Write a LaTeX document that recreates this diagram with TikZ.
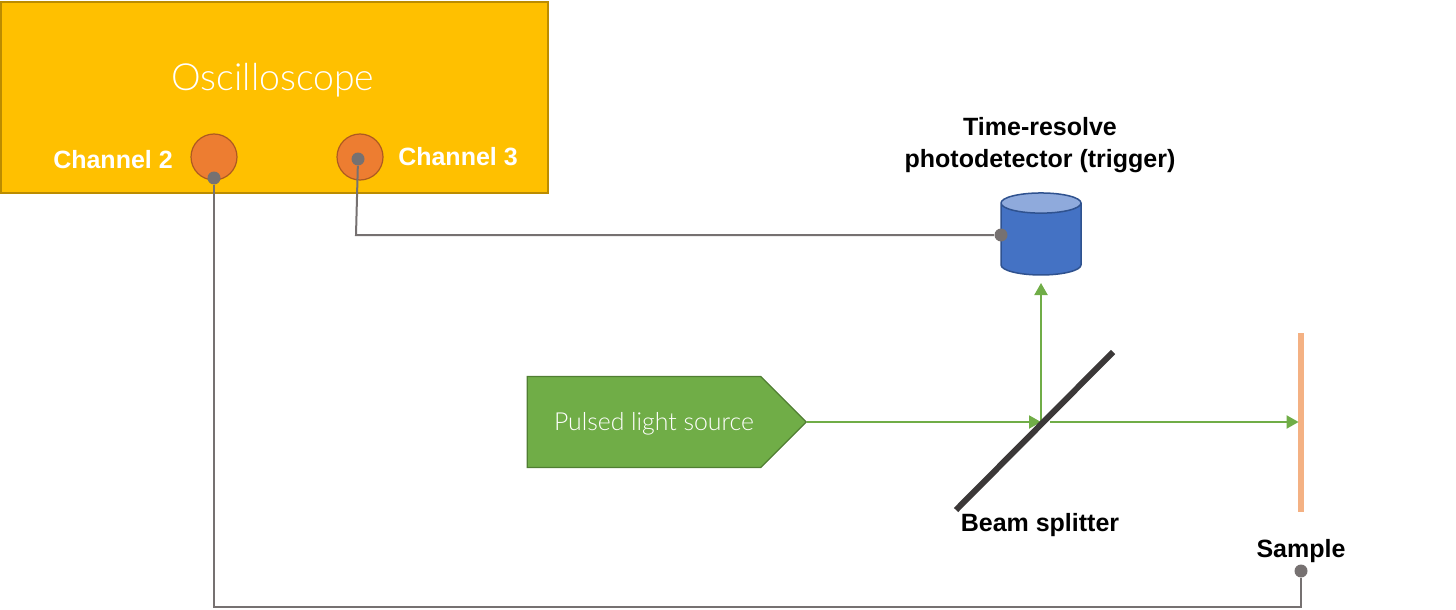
\documentclass[tikz,border=0pt]{standalone}
\usepackage{fontspec}
\setmainfont{Liberation Sans}
\newfontfamily\lightfont{Lato Light}
\usepackage{tikz}
\usetikzlibrary{arrows.meta,positioning,shapes.geometric,shapes.symbols}

\definecolor{scopegold}{HTML}{FFC000}
\definecolor{scopeedge}{HTML}{BC8C00}
\definecolor{portfill}{HTML}{ED7D31}
\definecolor{portedge}{HTML}{AE5A21}
\definecolor{wiregray}{HTML}{767171}
\definecolor{beamgreen}{HTML}{70AD47}
\definecolor{sourceedge}{HTML}{507E32}
\definecolor{detblue}{HTML}{4472C4}
\definecolor{dettop}{HTML}{8FAADC}
\definecolor{detedge}{HTML}{2F528F}
\definecolor{samplefill}{HTML}{F4B183}
\definecolor{splitterdark}{HTML}{3B3838}

\begin{document}
\begin{tikzpicture}[
		x=0.5pt,y=-0.5pt,
		>=Triangle,
		boldlabel/.style={font=\fontsize{12.5}{16}\selectfont\bfseries, inner sep=0pt, align=center},
		port/.style={circle, draw=portedge, fill=portfill, line width=0.6pt, minimum size=23pt, inner sep=0pt},
		wiredot/.style={circle, fill=wiregray, minimum size=6.5pt, inner sep=0pt},
		wire/.style={draw=wiregray, line width=1pt},
		beam/.style={->, draw=beamgreen, line width=1pt, >={Triangle[length=6pt,width=6.5pt]}}
		]
		\useasboundingbox (0,0) rectangle (1456,610);
		
		% =========================
		% Oscilloscope and its channels
		% =========================
		\node[draw=scopeedge, fill=scopegold, line width=0.75pt, minimum width=273.5pt, minimum height=95.5pt, inner sep=0pt] (scope) at (274.5,97.5) {};
		\node[text=white, font=\lightfont\fontsize{18.7}{22}\selectfont, inner sep=0pt] (scopelabel) at (273,80) {Oscilloscope};
		
		\node[port] (ch2) at (214,157) {};
		\node[port] (ch3) at (360,157) {};
		\node[boldlabel, text=white] (ch2label) at (113,160) {Channel 2};
		\node[boldlabel, text=white] (ch3label) at (458,157) {Channel 3};
		
		% =========================
		% Detector
		% =========================
		\node[boldlabel] (detlabel) at (1040,145) {Time-resolve\\photodetector (trigger)};
		\node[cylinder, shape border rotate=90, draw=detedge, line width=0.75pt, cylinder uses custom fill, cylinder body fill=detblue, cylinder end fill=dettop, aspect=0.42, minimum width=40pt, minimum height=41pt, inner sep=12pt] (detector) at (1041,244) {};
		
		% =========================
		% Source, splitter, sample
		% =========================
		\node[signal, signal to=east, signal pointer angle=90, draw=sourceedge, fill=beamgreen, line width=0.6pt, minimum width=139.5pt, minimum height=45.5pt, inner sep=0pt] (source) at (644,422) {};
		\node[text=white, font=\lightfont\fontsize{12.4}{14}\selectfont, inner sep=0pt] (sourcelabel) at (654,424) {Pulsed light source};
		
		\coordinate (bsa) at (956,510);
		\coordinate (bsb) at (1113,352);
		\coordinate (hit) at (1041,422);
		\coordinate (exit) at (1050,422);
		\coordinate (detin) at (1041,283);
		
		\node[fill=samplefill, minimum width=3pt, minimum height=89.5pt, inner sep=0pt] (sample) at (1301,422) {};
		
		\draw[beam] (source.east) -- (hit);
		\draw[beam] (hit) -- (detin);
		\draw[beam, shorten >=-0.5pt] (exit) -- (sample.west);
		\draw[splitterdark, line width=3pt] (bsa) -- (bsb);
		
		\node[boldlabel] (bslabel) at (1040,525) {Beam splitter};
		\node[boldlabel] (samplelabel) at (1301,551) {Sample};
		
		% =========================
		% Wiring
		% =========================
		\node[wiredot] (dot2) at (214,178) {};
		\node[wiredot] (dot3) at (358,159) {};
		\node[wiredot] (dotdet) at (1001,235) {};
		\node[wiredot] (dotsample) at (1301,571) {};
		\coordinate (bendthree) at (356,235);
		
		\draw[wire] (dot3) -- (bendthree) -- (dotdet);
		\draw[wire] (dot2) |- (dotsample |- 0,607) -- (dotsample);
	\end{tikzpicture}
\end{document}
